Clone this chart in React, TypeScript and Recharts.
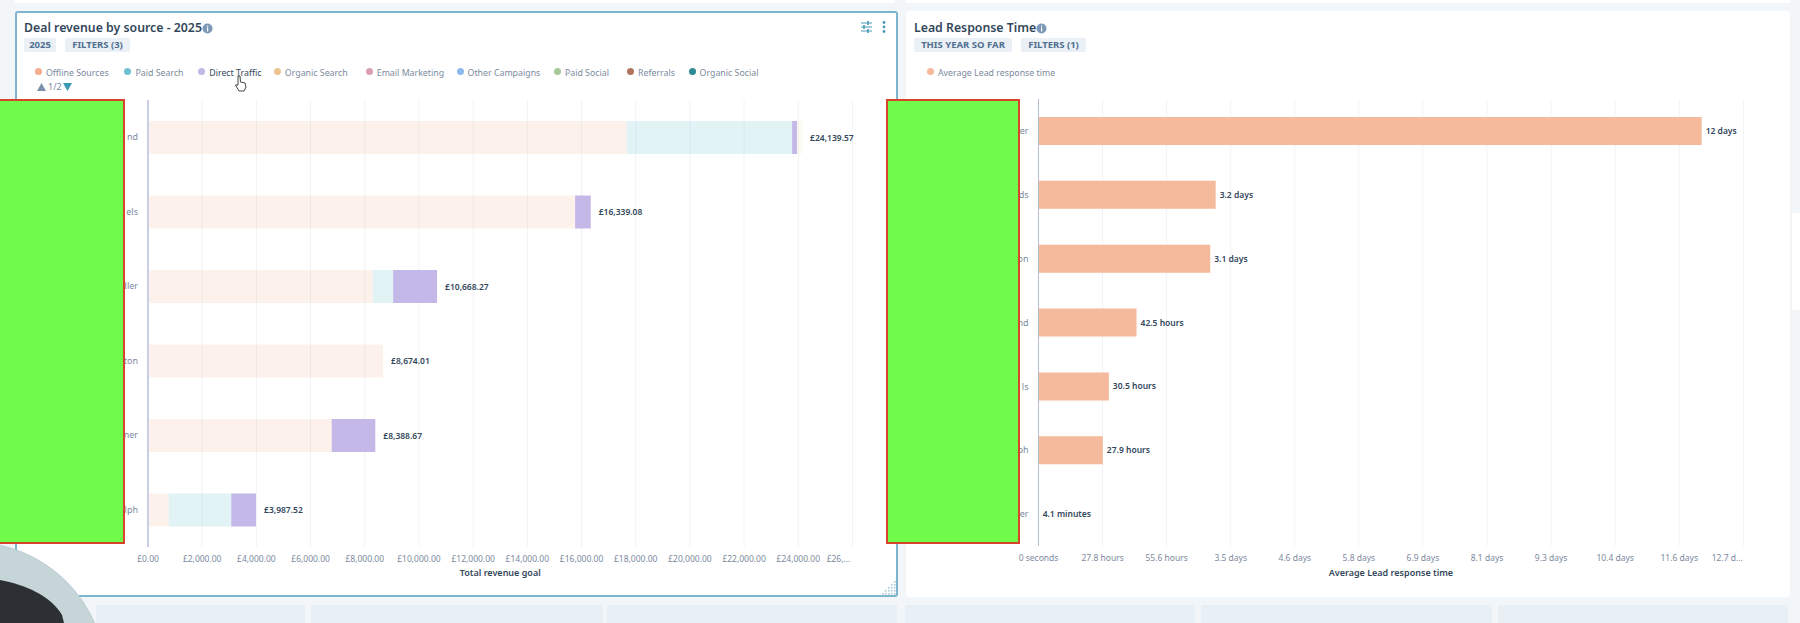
import React from "react";
import {
    BarChart,
    Bar,
    CartesianGrid,
    LabelList,
    Legend,
    XAxis,
    YAxis,
} from "recharts";

const FONT = "'Noto Sans', sans-serif";
const INK = "#33475b";
const MUTED = "#7c8a9e";

// left chart: only the visible ends of the rep names survive the redaction
const revenueReps = ["nd", "els", "dler", "ton", "ner", "lph"];
const offlineSources = [17669, 15763, 8284, 8674.01, 6780, 763];
const paidSearch = [6102, 0, 763, 0, 0, 2309];
const directTraffic = [180, 576, 1621, 0, 1609, 915];
const organicSearch = [189, 0, 0, 0, 0, 0];
const emptySeries = [0, 0, 0, 0, 0, 0];
const organicSocial = [0.01, 0.01, 0.01, 0.01, 0.01, 0.01];
const revenueTotals = ["£24,139.57", "£16,339.08", "£10,668.27", "£8,674.01", "£8,388.67", "£3,987.52"];
const revenueTicks = [0, 2000, 4000, 6000, 8000, 10000, 12000, 14000, 16000, 18000, 20000, 22000, 24000, 26000];
const revenueTickLabels = [
    "£0.00", "£2,000.00", "£4,000.00", "£6,000.00", "£8,000.00", "£10,000.00", "£12,000.00",
    "£14,000.00", "£16,000.00", "£18,000.00", "£20,000.00", "£22,000.00", "£24,000.00", "£26,...",
];

// right chart: response time in seconds
const responseReps = ["er", "ds", "on", "nd", "ls", "ph", "er "];
const responseSeconds = [1035000, 276500, 268000, 153000, 109800, 100440, 246];
const responseLabels = ["12 days", "3.2 days", "3.1 days", "42.5 hours", "30.5 hours", "27.9 hours", "4.1 minutes"];
const responseTicks = [0, 100000, 200000, 300000, 400000, 500000, 600000, 700000, 800000, 900000, 1000000, 1100000];
const responseTickLabels = [
    "0 seconds", "27.8 hours", "55.6 hours", "3.5 days", "4.6 days", "5.8 days",
    "6.9 days", "8.1 days", "9.3 days", "10.4 days", "11.6 days", "12.7 d...",
];

const revenueData = revenueReps.map((rep, i) => ({
    rep,
    offline: offlineSources[i],
    paidSearch: paidSearch[i],
    direct: directTraffic[i],
    organicSearch: organicSearch[i],
    email: emptySeries[i],
    other: emptySeries[i],
    paidSocial: emptySeries[i],
    referrals: emptySeries[i],
    organicSocial: organicSocial[i],
    total: revenueTotals[i],
}));

const responseData = responseReps.map((rep, i) => ({
    rep,
    seconds: responseSeconds[i],
    label: responseLabels[i],
}));

const AxisTick = ({ x, y, payload, index, labels, lastShift }: any) => (
    <text
        x={x + (index === labels.length - 1 ? lastShift : 0)}
        y={y}
        dy={7}
        textAnchor="middle"
        fontSize={8.5}
        fill={MUTED}
    >
        {labels[index] ?? payload.value}
    </text>
);

const legendGap: Record<string, number> = {
    "Offline Sources": 5.9,
    "Paid Search": 4.7,
    "Direct Traffic": 2.4,
    "Organic Search": 8.1,
    "Email Marketing": 2.4,
    "Other Campaigns": 3.6,
    "Paid Social": 8.1,
    Referrals: 3.6,
};

const legendText = (value: string) => (
    <span style={{ color: value === "Direct Traffic" ? INK : MUTED, fontSize: 8.8, marginRight: legendGap[value] ?? 0 }}>
        {value}
    </span>
);

const Chip = ({ left, width, text }: any) => (
    <div
        style={{
            position: "absolute",
            left,
            top: 38,
            width,
            height: 14,
            lineHeight: "14px",
            textAlign: "center",
            background: "#eaf0f6",
            color: "#516f90",
            fontSize: 9.5,
            fontWeight: 700,
            borderRadius: 2,
        }}
    >
        {text}
    </div>
);

const Title = ({ left, text, iconLeft }: any) => (
    <>
        <div style={{ position: "absolute", left, top: 19, fontSize: 12.3, fontWeight: 600, color: INK, lineHeight: "18px", whiteSpace: "nowrap" }}>
            {text}
        </div>
        <svg style={{ position: "absolute", left: iconLeft, top: 23 }} width="11" height="11">
            <circle cx="5.5" cy="5.5" r="5" fill="#7c98b6" />
            <rect x="5" y="4.5" width="1.2" height="4" fill="#fff" />
            <rect x="5" y="2.5" width="1.2" height="1.2" fill="#fff" />
        </svg>
    </>
);

const Redaction = ({ left, width }: any) => (
    <div
        style={{
            position: "absolute",
            left,
            top: 99,
            width,
            height: 445,
            boxSizing: "border-box",
            background: "#70fa4a",
            border: "2px solid #d8432c",
        }}
    />
);

const RevenueChart = () => (
    <BarChart
        width={880}
        height={530}
        data={revenueData}
        layout="vertical"
        barSize={33}
        margin={{ top: 18, right: 43.5, bottom: 13, left: 72 }}
    >
        <CartesianGrid horizontal={false} stroke="#f1f3f6" />
        <XAxis
            type="number"
            domain={[0, 26000]}
            ticks={revenueTicks}
            interval={0}
            axisLine={false}
            tickLine={false}
            height={30}
            tick={<AxisTick labels={revenueTickLabels} lastShift={-14} />}
            label={{ value: "Total revenue goal", position: "insideBottom", offset: 1, fontSize: 9, fontWeight: 600, fill: INK }}
        />
        <YAxis
            type="category"
            dataKey="rep"
            width={60}
            tickLine={false}
            tickMargin={4}
            axisLine={{ stroke: "#c8cfe2", strokeWidth: 2 }}
            tick={{ fontSize: 9, fill: MUTED }}
        />
        <Legend
            verticalAlign="top"
            align="left"
            iconType="circle"
            iconSize={7}
            itemSorter={null}
            formatter={legendText}
            wrapperStyle={{ top: -1, left: 19, width: 800 }}
        />
        <Bar dataKey="offline" name="Offline Sources" stackId="a" fill="#f2ae8f" fillOpacity={0.17} isAnimationActive={false} />
        <Bar dataKey="paidSearch" name="Paid Search" stackId="a" fill="#6ec1d2" fillOpacity={0.2} isAnimationActive={false} />
        <Bar dataKey="direct" name="Direct Traffic" stackId="a" fill="#c3b8e8" isAnimationActive={false} />
        <Bar dataKey="organicSearch" name="Organic Search" stackId="a" fill="#edc48f" fillOpacity={0.1} isAnimationActive={false} />
        <Bar dataKey="email" name="Email Marketing" stackId="a" fill="#dc9fb2" isAnimationActive={false} />
        <Bar dataKey="other" name="Other Campaigns" stackId="a" fill="#8cbaec" isAnimationActive={false} />
        <Bar dataKey="paidSocial" name="Paid Social" stackId="a" fill="#a8c89a" isAnimationActive={false} />
        <Bar dataKey="referrals" name="Referrals" stackId="a" fill="#b0745c" isAnimationActive={false} />
        <Bar dataKey="organicSocial" name="Organic Social" stackId="a" fill="#2e8a94" isAnimationActive={false}>
            <LabelList dataKey="total" position="right" offset={8} fontSize={8.5} fontWeight={600} fill={INK} />
        </Bar>
    </BarChart>
);

const ResponseChart = () => (
    <BarChart
        width={884}
        height={530}
        data={responseData}
        layout="vertical"
        barSize={28}
        margin={{ top: 18, right: 46.7, bottom: 13, left: 72.5 }}
    >
        <CartesianGrid horizontal={false} stroke="#f1f3f6" />
        <XAxis
            type="number"
            domain={[0, 1100000]}
            ticks={responseTicks}
            interval={0}
            axisLine={false}
            tickLine={false}
            height={30}
            tick={<AxisTick labels={responseTickLabels} lastShift={-16} />}
            label={{ value: "Average Lead response time", position: "insideBottom", offset: 0, fontSize: 9, fontWeight: 600, fill: INK }}
        />
        <YAxis
            type="category"
            dataKey="rep"
            width={60}
            tickLine={false}
            tickMargin={4}
            axisLine={{ stroke: "#b4c0d0", strokeWidth: 1 }}
            tick={{ fontSize: 9, fill: MUTED }}
        />
        <Legend
            verticalAlign="top"
            align="left"
            iconType="circle"
            iconSize={7}
            itemSorter={null}
            formatter={legendText}
            wrapperStyle={{ top: 0, left: 21, width: 400 }}
        />
        <Bar dataKey="seconds" name="Average Lead response time" fill="#f5b99b" isAnimationActive={false}>
            <LabelList dataKey="label" position="right" offset={4} fontSize={8.5} fontWeight={600} fill={INK} />
        </Bar>
    </BarChart>
);

const App = () => (
    <div
        style={{
            position: "absolute",
            left: 0,
            top: 0,
            width: 1800,
            height: 623,
            overflow: "hidden",
            background: "#f3f6f8",
            fontFamily: FONT,
        }}
    >
        {/* cards cut off by the page edges */}
        <div style={{ position: "absolute", left: 15, top: 0, width: 880, height: 3, background: "#fff" }} />
        <div style={{ position: "absolute", left: 906, top: 0, width: 884, height: 3, background: "#fff" }} />
        {[[96, 209], [311, 292], [607, 290], [905, 290], [1201, 291], [1498, 290]].map(([left, width]) => (
            <div key={left} style={{ position: "absolute", left, top: 605, width, height: 18, background: "#e9f0f5" }} />
        ))}
        <div style={{ position: "absolute", left: 1792, top: 213, width: 8, height: 97, background: "#fff" }} />

        <div style={{ position: "absolute", left: 15, top: 11, width: 883, height: 586, boxSizing: "border-box", background: "#fff", border: "2px solid #7db6cc", borderRadius: 3 }} />
        <div style={{ position: "absolute", left: 906, top: 11, width: 884, height: 586, background: "#fff", borderRadius: 3 }} />

        <Title left={24} text="Deal revenue by source - 2025" iconLeft={202} />
        <Chip left={24} width={32} text="2025" />
        <Chip left={65} width={65} text="FILTERS (3)" />
        <Title left={914} text="Lead Response Time" iconLeft={1036} />
        <Chip left={914} width={98} text="THIS YEAR SO FAR" />
        <Chip left={1021} width={65} text="FILTERS (1)" />

        <svg style={{ position: "absolute", left: 860, top: 20 }} width="30" height="15">
            <g stroke="#4a9ab5" strokeWidth="1">
                <line x1="1" y1="3" x2="12" y2="3" />
                <line x1="1" y1="7" x2="12" y2="7" />
                <line x1="1" y1="11" x2="12" y2="11" />
                <line x1="8" y1="1" x2="8" y2="5" strokeWidth="1.6" />
                <line x1="4" y1="5" x2="4" y2="9" strokeWidth="1.6" />
                <line x1="8" y1="9" x2="8" y2="13" strokeWidth="1.6" />
            </g>
            <g fill="#4a9ab5">
                <circle cx="24" cy="2.5" r="1.4" />
                <circle cx="24" cy="7" r="1.4" />
                <circle cx="24" cy="11.5" r="1.4" />
            </g>
        </svg>

        <div style={{ position: "absolute", left: 16, top: 60 }}>
            <RevenueChart />
        </div>
        <div style={{ position: "absolute", left: 906, top: 59 }}>
            <ResponseChart />
        </div>

        {/* legend pager */}
        <svg style={{ position: "absolute", left: 36, top: 81 }} width="40" height="12">
            <path d="M1 10 L5.5 2 L10 10 Z" fill="#7a92ae" />
            <path d="M27 2 L36 2 L31.5 10 Z" fill="#3a9ab5" />
        </svg>
        <div style={{ position: "absolute", left: 48, top: 80, fontSize: 9, color: MUTED, lineHeight: "14px" }}>1/2</div>

        {/* pointer over the legend */}
        <svg style={{ position: "absolute", left: 234, top: 74 }} width="14" height="18">
            <path d="M4 2 L6 2 L6.5 8 L11 9 L12 13 L10 17 L5 17 L1.5 11 L4 11 Z" fill="#fff" stroke="#444" strokeWidth="1" />
        </svg>

        {/* resize handle */}
        <svg style={{ position: "absolute", left: 879, top: 578 }} width="18" height="18">
            <defs>
                <pattern id="grip" width="3" height="3" patternUnits="userSpaceOnUse">
                    <rect width="1.6" height="1.6" fill="#a9cbd8" />
                </pattern>
            </defs>
            <path d="M18 0 L18 18 L0 18 Z" fill="url(#grip)" />
        </svg>

        <Redaction left={-2} width={127} />
        <Redaction left={886} width={134} />

        {/* webcam bubble */}
        <svg style={{ position: "absolute", left: 0, top: 540 }} width="110" height="83">
            <circle cx="-29" cy="137" r="135" fill="#c5d5d8" stroke="#b5c8ce" strokeWidth="0.8" />
            <path d="M0 40 C25 45 50 55 62 75 L64 83 L0 83 Z" fill="#2c2f33" />
        </svg>
    </div>
);

export default App;
